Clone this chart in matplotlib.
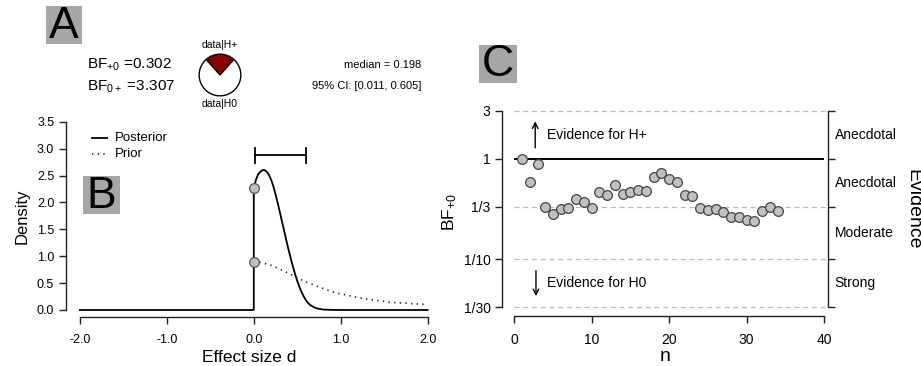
import matplotlib
matplotlib.use("Agg")
import matplotlib.pyplot as plt
from matplotlib.patches import Rectangle
from matplotlib.ticker import FixedLocator, NullLocator

plt.rcParams['font.family'] = ['Liberation Sans', 'DejaVu Sans']
plt.rcParams['mathtext.fontset'] = 'custom'
plt.rcParams['mathtext.rm'] = 'Liberation Sans'
plt.rcParams['mathtext.it'] = 'Liberation Sans:italic'

# --- data ---
bf_plus0 = 0.302
bf_0plus = 3.307
post_median = 0.198
ci_low, ci_high = 0.011, 0.605

# posterior density (zero below 0, truncated at 0)
post_d = [-2.0, 0.0, 0.0, 0.025, 0.05, 0.075, 0.10, 0.125, 0.15, 0.175, 0.20, 0.225,
          0.25, 0.275, 0.30, 0.325, 0.35, 0.375, 0.40, 0.425, 0.45, 0.475, 0.50,
          0.525, 0.55, 0.575, 0.60, 0.625, 0.65, 0.70, 0.75, 0.80, 0.90, 1.00, 2.00]
post_dens = [0.0, 0.0, 2.27, 2.42, 2.52, 2.57, 2.60, 2.60, 2.57, 2.51, 2.42, 2.30,
             2.15, 1.99, 1.82, 1.64, 1.47, 1.29, 1.12, 0.96, 0.81, 0.67, 0.54,
             0.43, 0.33, 0.25, 0.18, 0.13, 0.09, 0.045, 0.02, 0.008, 0.002, 0.0, 0.0]

# prior density (half Cauchy)
prior_d = [0.0, 0.1, 0.2, 0.3, 0.4, 0.5, 0.6, 0.7, 0.8, 0.9, 1.0, 1.2, 1.4, 1.6, 1.8, 2.0]
prior_dens = [0.90, 0.88, 0.83, 0.76, 0.68, 0.60, 0.52, 0.46, 0.40, 0.34, 0.30,
              0.23, 0.18, 0.14, 0.12, 0.10]

# sequential BF+0
seq_n = list(range(1, 35))
seq_bf = [1.0, 0.586, 0.885, 0.333, 0.282, 0.316, 0.321, 0.398, 0.368, 0.323,
          0.466, 0.435, 0.552, 0.443, 0.470, 0.489, 0.477, 0.662, 0.716, 0.633,
          0.586, 0.435, 0.429, 0.321, 0.309, 0.316, 0.293, 0.263, 0.261, 0.248,
          0.240, 0.300, 0.333, 0.302]

bf_levels = [1/30, 1/10, 1/3, 1, 3]
bf_labels = ['1/30', '1/10', '1/3', '1', '3']
evidence_pos = [3**0.5, (1/3)**0.5, (1/30)**0.5, (1/300)**0.5]
evidence_lab = ['Anecdotal', 'Anecdotal', 'Moderate', 'Strong']

W, H = 921, 366
fig = plt.figure(figsize=(W/100, H/100), dpi=100)


def fx(x):
    return x / W


def fy(y):
    return 1 - y / H


def letter_box(x0, y0, x1, y1, s):
    fig.patches.append(Rectangle((fx(x0), fy(y1)), fx(x1 - x0), (y1 - y0) / H,
                                 transform=fig.transFigure, facecolor='#a6a6a6',
                                 edgecolor='none', zorder=0))
    fig.text(fx((x0 + x1) / 2), fy((y0 + y1) / 2 + 1), s, fontsize=32,
             ha='center', va='center')


dark = '#222222'
pt_face = '#c0c0c0'
dots = (0, (0.8, 2.6))

# ---------------- panel A: text + pie ----------------
letter_box(46, 6, 82, 44, 'A')
fig.text(fx(87), fy(65), r'BF$_{+0}$ =%.3f' % bf_plus0, fontsize=11, va='center')
fig.text(fx(87), fy(87), r'BF$_{0+}$ =%.3f' % bf_0plus, fontsize=11, va='center')
fig.text(fx(421), fy(65), 'median = %.3f' % post_median, fontsize=8, va='center', ha='right')
fig.text(fx(421), fy(86), '95%% CI: [%.3f, %.3f]' % (ci_low, ci_high), fontsize=8,
         va='center', ha='right')
fig.text(fx(220), fy(45), 'data|H+', fontsize=7.5, ha='center', va='center')
fig.text(fx(220), fy(104), 'data|H0', fontsize=7.5, ha='center', va='center')

p_plus = bf_plus0 / (1 + bf_plus0)
ax_pie = fig.add_axes([fx(220 - 25), fy(75 + 25), 50 / W, 50 / H])
ax_pie.pie([p_plus, 1 - p_plus], colors=['#8b0000', 'white'],
           startangle=90 - p_plus * 180, counterclock=True,
           wedgeprops=dict(edgecolor='black', linewidth=1.0))
ax_pie.set_xlim(-1.2, 1.2)
ax_pie.set_ylim(-1.2, 1.2)
ax_pie.axis('off')

# ---------------- panel B: prior / posterior ----------------
axB = fig.add_axes([fx(66), fy(317.3), (432 - 66) / W, (317.3 - 115) / H])
axB.plot(post_d, post_dens, color='black', lw=1.3, solid_joinstyle='round')
axB.plot(prior_d, prior_dens, color=dark, lw=1.2, linestyle=dots,
         dash_capstyle='butt')
axB.plot([0, 0], [post_dens[2], prior_dens[0]], 'o', ms=7, mfc=pt_face,
         mec='#555555', mew=0.9, zorder=5)
# credible interval bar
ci_y = 2.88
axB.plot([ci_low, ci_high], [ci_y, ci_y], color='black', lw=1.3)
axB.plot([ci_low, ci_low], [ci_y - 0.14, ci_y + 0.14], color='black', lw=1.3)
axB.plot([ci_high, ci_high], [ci_y - 0.14, ci_y + 0.14], color='black', lw=1.3)

axB.set_xlim(-2.16, 2.05)
axB.set_ylim(-0.136, 3.625)
axB.spines['top'].set_visible(False)
axB.spines['right'].set_visible(False)
axB.spines['left'].set_bounds(0, 3.5)
axB.spines['bottom'].set_bounds(-2, 2)
for s in ['left', 'bottom']:
    axB.spines[s].set_linewidth(1.0)
    axB.spines[s].set_color(dark)
axB.set_xticks([-2, -1, 0, 1, 2])
axB.set_xticklabels(['-2.0', '-1.0', '0.0', '1.0', '2.0'])
axB.set_yticks([0, 0.5, 1, 1.5, 2, 2.5, 3, 3.5])
axB.set_yticklabels(['0.0', '0.5', '1.0', '1.5', '2.0', '2.5', '3.0', '3.5'])
axB.tick_params(labelsize=9, length=5, width=1.0, color=dark)
axB.tick_params(axis='x', pad=7)
axB.tick_params(axis='y', pad=3.5)
axB.set_xlabel('Effect size d', fontsize=12.5, labelpad=3)
axB.set_ylabel('Density', fontsize=12, labelpad=5)

# legend drawn by hand like the original
fig.lines.append(plt.Line2D([fx(92), fx(107)], [fy(138), fy(138)], color='black',
                            lw=1.3, transform=fig.transFigure))
fig.lines.append(plt.Line2D([fx(92), fx(107)], [fy(154), fy(154)], color=dark,
                            lw=1.2, linestyle=dots, dash_capstyle='butt',
                            transform=fig.transFigure))
fig.text(fx(115), fy(138), 'Posterior', fontsize=9.5, va='center')
fig.text(fx(115), fy(154), 'Prior', fontsize=9.5, va='center')
letter_box(83, 176, 120, 214, 'B')

# ---------------- panel C: sequential analysis ----------------
axC = fig.add_axes([fx(501.7), fy(316), (827.7 - 501.7) / W, (316 - 108) / H])
axC.set_yscale('log')
axC.hlines([3, 1/3, 1/10, 1/30], 0, 40.4, colors='#bbbbbb', lw=0.9,
           linestyles=(0, (4, 3)))
axC.hlines(1, 0, 40, colors='black', lw=1.4)
axC.plot(seq_n, seq_bf, 'o', ms=7, mfc=pt_face, mec='#444444', mew=0.9,
         zorder=5, clip_on=False)

axC.annotate('', xy=(2.7, 2.35), xytext=(2.7, 1.28),
             arrowprops=dict(arrowstyle='->', lw=1.0, color='black',
                             shrinkA=0, shrinkB=0))
axC.annotate('', xy=(2.8, 0.043), xytext=(2.8, 0.077),
             arrowprops=dict(arrowstyle='->', lw=1.0, color='black',
                             shrinkA=0, shrinkB=0))
axC.text(4.2, 1.72, 'Evidence for H+', fontsize=10, va='center')
axC.text(4.2, 0.058, 'Evidence for H0', fontsize=10, va='center')
for yv, lab in zip(evidence_pos, evidence_lab):
    axC.text(41.4, yv, lab, fontsize=10, va='center', ha='left')

axC.set_xlim(-1.627, 40.48)
axC.set_ylim(0.02732, 3.19)
axC.spines['top'].set_visible(False)
axC.spines['left'].set_bounds(1/30, 3)
axC.spines['right'].set_bounds(1/30, 3)
axC.spines['bottom'].set_bounds(0, 40)
for s in ['left', 'bottom', 'right']:
    axC.spines[s].set_linewidth(1.0)
    axC.spines[s].set_color(dark)
axC.yaxis.set_major_locator(FixedLocator(bf_levels))
axC.yaxis.set_minor_locator(NullLocator())
axC.set_yticklabels(bf_labels)
axC.set_xticks([0, 10, 20, 30, 40])
axC.tick_params(axis='y', which='both', right=True, labelright=False)
axC.tick_params(axis='x', labelsize=10, length=5, width=1.0, color=dark, pad=7)
axC.tick_params(axis='y', labelsize=10, length=5, width=1.0, color=dark, pad=3)
axC.set_xlabel('n', fontsize=14, labelpad=1)
axC.set_ylabel(r'BF$_{+0}$', fontsize=12.5, labelpad=3)
fig.text(fx(913), fy(209), 'Evidence', fontsize=14, rotation=270,
         ha='center', va='center')
letter_box(479, 45, 517, 83, 'C')

fig.savefig('out.png', dpi=100)
